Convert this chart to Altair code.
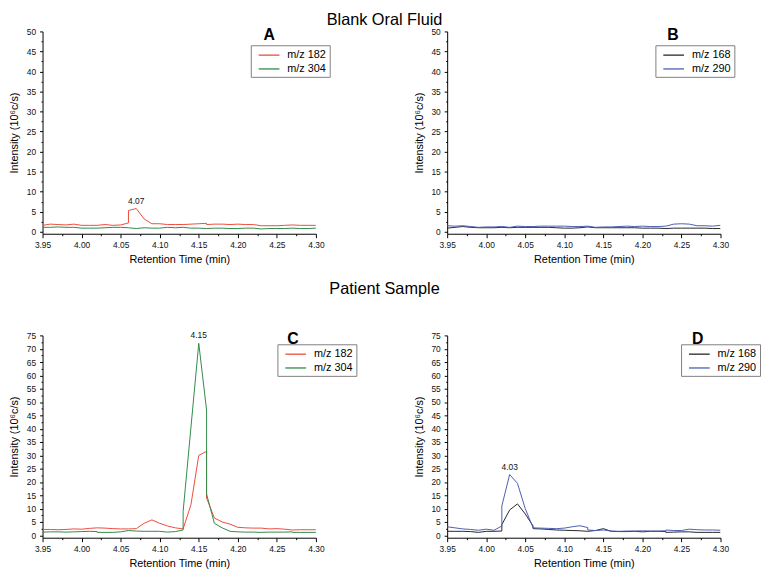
import altair as alt
import pandas as pd

# ---------------- data ----------------
# Blank Oral Fluid, panel A
A182_t = [3.95, 3.96, 3.97, 3.98, 3.99, 4.00, 4.01, 4.02, 4.03, 4.04, 4.05, 4.06, 4.06, 4.07, 4.08, 4.09,
          4.10, 4.11, 4.12, 4.13, 4.14, 4.15, 4.16, 4.16, 4.17, 4.18, 4.19, 4.20, 4.21, 4.22, 4.23, 4.24,
          4.25, 4.26, 4.27, 4.28, 4.29, 4.30]
A182_v = [1.6, 1.9, 1.8, 1.7, 1.9, 1.6, 1.6, 1.6, 1.8, 1.6, 1.7, 2.2, 5.3, 5.8, 3.2, 2.0,
          2.0, 1.8, 1.8, 1.8, 1.9, 2.0, 2.1, 1.8, 1.9, 1.9, 1.8, 1.9, 1.8, 1.8, 1.5, 1.5,
          1.5, 1.6, 1.7, 1.6, 1.6, 1.6]
GRID_t = [3.95, 3.96, 3.97, 3.98, 3.99, 4.00, 4.01, 4.02, 4.03, 4.04, 4.05, 4.06, 4.07, 4.08, 4.09, 4.10,
          4.11, 4.12, 4.13, 4.14, 4.15, 4.16, 4.17, 4.18, 4.19, 4.20, 4.21, 4.22, 4.23, 4.24, 4.25, 4.26,
          4.27, 4.28, 4.29, 4.30]
A304_v = [1.1, 1.1, 1.2, 1.1, 1.1, 0.9, 0.9, 0.9, 1.0, 1.1, 1.1, 1.0, 0.8, 1.0, 0.9, 0.9,
          1.1, 1.0, 1.1, 0.9, 0.9, 0.8, 0.9, 0.9, 0.8, 0.8, 0.9, 0.9, 0.7, 0.8, 0.8, 0.8,
          0.9, 0.8, 0.8, 0.9]
# Blank Oral Fluid, panel B
B168_v = [0.9, 1.1, 1.3, 1.1, 1.0, 1.0, 1.0, 1.1, 1.0, 1.1, 1.1, 1.1, 1.1, 1.1, 1.0, 0.9,
          0.9, 1.0, 1.2, 1.0, 1.0, 1.0, 1.0, 1.0, 1.0, 0.9, 0.9, 0.9, 0.8, 0.9, 0.9, 0.9,
          0.9, 0.9, 0.8, 0.8]
B290_v = [1.5, 1.4, 1.5, 1.3, 1.1, 1.2, 1.2, 1.3, 1.1, 1.4, 1.3, 1.3, 1.4, 1.4, 1.4, 1.4,
          1.3, 1.3, 1.4, 1.1, 1.2, 1.2, 1.3, 1.4, 1.3, 1.4, 1.3, 1.3, 1.4, 1.9, 2.0, 1.9,
          1.5, 1.5, 1.4, 1.6]
# Patient Sample, panel C
C182_t = [3.95, 3.96, 3.97, 3.98, 3.99, 4.00, 4.01, 4.02, 4.03, 4.04, 4.05, 4.06, 4.07, 4.08, 4.09, 4.10,
          4.11, 4.12, 4.13, 4.14, 4.15, 4.16, 4.16, 4.17, 4.18, 4.19, 4.20, 4.21, 4.22, 4.23, 4.24, 4.25,
          4.26, 4.27, 4.28, 4.29, 4.30]
C182_v = [2.2, 2.2, 2.1, 2.2, 2.4, 2.3, 2.6, 2.8, 2.7, 2.5, 2.4, 2.4, 2.5, 4.5, 5.8, 4.5,
          3.5, 2.8, 2.4, 11.5, 30.0, 31.5, 14.0, 6.5, 5.0, 4.2, 3.0, 2.8, 2.7, 2.7, 2.4, 2.5,
          2.3, 2.0, 2.1, 2.1, 2.1]
C304_t = [3.95, 3.96, 3.97, 3.98, 3.99, 4.00, 4.01, 4.02, 4.02, 4.03, 4.04, 4.05, 4.06, 4.07, 4.08, 4.09,
          4.10, 4.11, 4.12, 4.13, 4.13, 4.15, 4.16, 4.16, 4.17, 4.18, 4.19, 4.20, 4.21, 4.22, 4.23, 4.24,
          4.25, 4.26, 4.27, 4.27, 4.28, 4.29, 4.30]
C304_v = [1.2, 1.3, 1.3, 1.2, 1.3, 1.4, 1.5, 1.4, 1.1, 1.1, 1.1, 1.3, 1.8, 1.6, 1.5, 1.5,
          1.5, 1.2, 1.4, 2.0, 9.0, 72.0, 47.0, 15.5, 4.5, 2.8, 1.5, 1.3, 1.2, 1.2, 1.1, 1.2,
          1.2, 1.2, 1.3, 1.1, 1.1, 1.1, 1.1]
# Patient Sample, panel D
D168_t = [3.95, 3.96, 3.97, 3.98, 3.99, 4.00, 4.01, 4.02, 4.02, 4.03, 4.04, 4.05, 4.06, 4.06, 4.07, 4.08,
          4.09, 4.10, 4.11, 4.12, 4.13, 4.14, 4.15, 4.16, 4.17, 4.18, 4.19, 4.20, 4.21, 4.22, 4.23, 4.23,
          4.24, 4.25, 4.26, 4.27, 4.28, 4.29, 4.30]
D168_v = [1.5, 1.5, 1.5, 1.4, 1.1, 1.5, 1.5, 1.6, 4.0, 9.5, 11.8, 8.0, 3.5, 2.5, 2.4, 2.2,
          2.0, 1.9, 1.8, 1.7, 1.5, 1.8, 2.5, 1.5, 1.4, 1.4, 1.5, 1.3, 1.5, 1.5, 1.4, 1.1,
          1.2, 1.3, 1.3, 1.1, 1.1, 1.1, 1.1]
D290_t = [3.95, 3.96, 3.97, 3.98, 3.99, 4.00, 4.01, 4.02, 4.02, 4.03, 4.04, 4.05, 4.06, 4.07, 4.08, 4.09,
          4.10, 4.11, 4.12, 4.13, 4.13, 4.14, 4.15, 4.16, 4.17, 4.18, 4.19, 4.20, 4.21, 4.22, 4.23, 4.23,
          4.24, 4.25, 4.26, 4.27, 4.28, 4.29, 4.30]
D290_v = [3.2, 2.8, 2.4, 2.2, 1.9, 2.3, 1.9, 3.5, 11.0, 22.8, 19.5, 10.0, 2.8, 2.7, 2.6, 2.5,
          2.7, 3.2, 3.6, 2.9, 2.0, 1.8, 2.0, 1.6, 1.5, 1.6, 1.6, 1.7, 1.6, 1.6, 1.7, 2.0,
          1.8, 1.8, 2.3, 2.1, 2.0, 2.0, 1.9]

SERIES_AC = ["m/z 182", "m/z 304"]
COLORS_AC = ["#ef4a3c", "#2f8a48"]
SERIES_BD = ["m/z 168", "m/z 290"]
COLORS_BD = ["#262626", "#4a5db3"]

X_TICKS = [3.95, 3.975, 4.0, 4.025, 4.05, 4.075, 4.1, 4.125, 4.15, 4.175, 4.2, 4.225, 4.25, 4.275, 4.3]
Y_TICKS_50 = [i * 2.5 for i in range(21)]
Y_TICKS_75 = [i * 2.5 for i in range(31)]

FONT = "Liberation Sans"


def frame(pairs):
    rows = []
    for name, ts, vs in pairs:
        for k, (t, v) in enumerate(zip(ts, vs)):
            rows.append({"s": name, "t": t, "v": v, "i": k})
    return pd.DataFrame(rows)


def panel(df, series, colors, ydom, yticks, letter, letter_dx, lx, ly, ann=None):
    xaxis = alt.Axis(values=X_TICKS, format=".2f", labelFlush=False, labelOverlap=False,
                     labelExpr="round(datum.value*1000) % 50 === 0 ? datum.label : ''",
                     tickSize={"condition": {"test": "round(datum.value*1000) % 50 === 0", "value": 4},
                               "value": 2},
                     labelPadding=3, titlePadding=5, grid=False)
    yaxis = alt.Axis(values=yticks, labelFlush=False, labelOverlap=False,
                     labelExpr="datum.value % 5 === 0 ? datum.label : ''",
                     tickSize={"condition": {"test": "datum.value % 5 === 0", "value": 3},
                               "value": 1.5},
                     labelPadding=4, titlePadding=7, grid=False)
    xenc = alt.X("t:Q", scale=alt.Scale(domain=[3.95, 4.30], nice=False, zero=False),
                 axis=xaxis, title="Retention Time (min)")
    yenc = alt.Y("v:Q", scale=alt.Scale(domain=ydom, nice=False, zero=False),
                 axis=yaxis, title="Intensity (10⁶c/s)")
    lines = alt.Chart(df).mark_line(strokeWidth=1, clip=True).encode(
        x=xenc, y=yenc,
        color=alt.Color("s:N", scale=alt.Scale(domain=series, range=colors),
                        legend=alt.Legend(orient="none", legendX=lx, legendY=ly, title=None,
                                          symbolType="M-0.33,0H3.17", symbolSize=144,
                                          symbolStrokeWidth=1.3, labelFontSize=11, labelFont=FONT,
                                          labelOffset=20, rowPadding=2, padding=3,
                                          strokeColor="#808080", fillColor="white")),
        order="i:Q",
    )
    layers = [lines]
    if ann is not None:
        sub = df[df["s"] == ann]
        pk = sub.loc[[sub["v"].idxmax()]].copy()
        pk["label"] = pk["t"].map(lambda x: f"{x:.2f}")
        txt = alt.Chart(pk).mark_text(baseline="bottom", dy=-3, fontSize=8.5, font=FONT,
                                      color="#111").encode(x=xenc, y=yenc, text="label:N")
        layers.append(txt)
    return alt.layer(*layers).properties(
        width=277, height=205,
        title=alt.TitleParams(letter, anchor="start", frame="group", dx=letter_dx, dy=8, offset=-8,
                              fontSize=16, fontWeight="bold", font=FONT, color="black"),
    )


dfA = frame([("m/z 182", A182_t, A182_v), ("m/z 304", GRID_t, A304_v)])
dfB = frame([("m/z 168", GRID_t, B168_v), ("m/z 290", GRID_t, B290_v)])
dfC = frame([("m/z 182", C182_t, C182_v), ("m/z 304", C304_t, C304_v)])
dfD = frame([("m/z 168", D168_t, D168_v), ("m/z 290", D290_t, D290_v)])

pA = panel(dfA, SERIES_AC, COLORS_AC, [-0.5, 50], Y_TICKS_50, "A", 224, 211, 14, ann="m/z 182")
pB = panel(dfB, SERIES_BD, COLORS_BD, [-0.5, 50], Y_TICKS_50, "B", 223, 211, 14)
pC = panel(dfC, SERIES_AC, COLORS_AC, [-0.9, 75], Y_TICKS_75, "C", 248, 238, 9, ann="m/z 304")
pD = panel(dfD, SERIES_BD, COLORS_BD, [-0.9, 75], Y_TICKS_75, "D", 248, 237, 9, ann="m/z 290")

row1 = alt.hconcat(pA, pB, spacing=133, bounds="flush",
                   title=alt.TitleParams("Blank Oral Fluid", fontSize=16.5, fontWeight="normal",
                                         font=FONT, anchor="middle", offset=-1, dx=13, color="black")
                   ).resolve_scale(color="independent").resolve_legend(color="independent")
row2 = alt.hconcat(pC, pD, spacing=133, bounds="flush",
                   title=alt.TitleParams("Patient Sample", fontSize=16.5, fontWeight="normal",
                                         font=FONT, anchor="middle", offset=34, color="black")
                   ).resolve_scale(color="independent").resolve_legend(color="independent")

chart = alt.vconcat(row1, row2, spacing=16, padding=0).resolve_scale(
    color="independent").resolve_legend(color="independent").configure_view(
    strokeWidth=0).configure_axis(
    domainColor="black", tickColor="black", labelColor="#111", titleColor="black",
    labelFont=FONT, titleFont=FONT, labelFontSize=8.5, titleFontSize=11,
    titleFontWeight="normal", domainWidth=1, tickWidth=1)

chart.save("out.html", embed_options={"renderer": "svg", "actions": False})
